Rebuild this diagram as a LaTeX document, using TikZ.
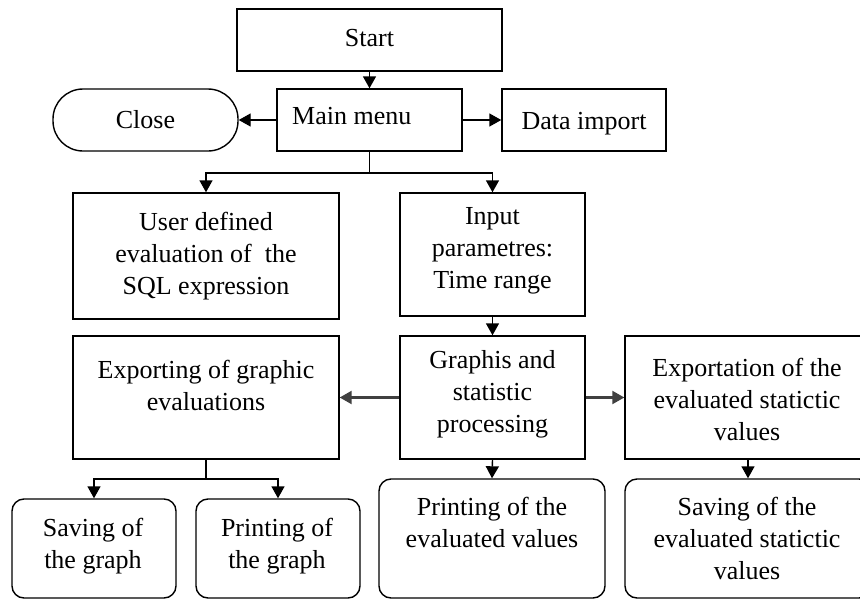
\documentclass[tikz,border=0pt]{standalone}
\usepackage{fontspec}
\setmainfont{Liberation Serif}
\usetikzlibrary{arrows.meta}
\tikzset{
  box/.style={draw=black, line width=1.4pt, fill=white, rectangle, inner sep=0pt},
  rbox/.style={box, rounded corners=12pt},
  stadium/.style={box, rounded corners=30pt},
  txt/.style={font=\fontsize{26}{32}\selectfont, align=center, inner sep=0pt},
  arr/.style={draw=black, line width=1.4pt, -{Triangle[length=12pt,width=13pt]}},
  garr/.style={draw=black!75, line width=2.2pt, -{Triangle[length=12pt,width=13pt]}},
  ln/.style={draw=black, line width=1.4pt}
}
\begin{document}
\begin{tikzpicture}[x=1pt,y=-1pt]
\useasboundingbox (0,0) rectangle (860,600);
\fill[white] (0,0) rectangle (860,600);
\clip (0,0) rectangle (860,600);

% boxes
\node[box, minimum width=265pt, minimum height=62pt] (start) at (369.5,40) {};
\node[txt, anchor=base] (start-t) at (369.5,46) {Start};
\node[box, minimum width=185pt, minimum height=62pt] (main) at (369.5,120) {};
\node[txt, anchor=base west] (main-t) at (292,124) {Main menu};
\node[stadium, minimum width=185pt, minimum height=62pt] (close) at (145.5,120) {};
\node[txt, anchor=base] (close-t) at (145.5,128) {Close};
\node[box, minimum width=164pt, minimum height=62pt] (import) at (584,120) {};
\node[txt, anchor=base] (import-t) at (584,129) {Data import};

\node[box, minimum width=266pt, minimum height=126pt] (user) at (206,256) {};
\node[txt] (user-t) at (206,256) {User defined\\evaluation of \ the\\SQL expression};
\node[box, minimum width=185pt, minimum height=123pt] (input) at (492.5,254.5) {};
\node[txt] (input-t) at (492.5,251) {Input\\parametres:\\Time range};

\node[box, minimum width=266pt, minimum height=123pt] (expg) at (206,397.5) {};
\node[txt, anchor=north] (expg-t) at (206,360) {Exporting of graphic\\evaluations};
\node[box, minimum width=185pt, minimum height=123pt] (proc) at (492.5,397.5) {};
\node[txt] (proc-t) at (492.5,394) {Graphis and\\statistic\\processing};
\node[box, minimum width=246pt, minimum height=123pt] (expv) at (748,397.5) {};
\node[txt] (expv-t) at (747,399) {Exportation of the\\evaluated statictic\\values};

\node[rbox, minimum width=164pt, minimum height=99pt] (saveg) at (94,548.5) {};
\node[txt] (saveg-t) at (93,546) {Saving of\\the graph};
\node[rbox, minimum width=164pt, minimum height=99pt] (printg) at (278,548.5) {};
\node[txt] (printg-t) at (277,546) {Printing of\\the graph};
\node[rbox, minimum width=226pt, minimum height=119pt] (printv) at (492,538.5) {};
\node[txt, anchor=north] (printv-t) at (492,497) {Printing of the\\evaluated values};
\node[rbox, minimum width=246pt, minimum height=119pt] (savev) at (748,538.5) {};
\node[txt, anchor=north] (savev-t) at (747,497) {Saving of the\\evaluated statictic\\values};

% connectors
\draw[arr] (start.south) -- (main.north);
\draw[arr] (main.west) -- (close.east);
\draw[arr] (main.east) -- (import.west);
\coordinate (b1) at (369.5,173);
\draw[ln] (main.south) -- (b1);
\draw[arr] (b1) -| (user.north);
\draw[arr] (b1) -| (input.north);
\draw[arr] (input.south) -- (proc.north);
\draw[garr] (proc.west) -- (expg.east);
\draw[garr] (proc.east) -- (expv.west);
\coordinate (b2) at (206,479);
\draw[ln] (expg.south) -- (b2);
\draw[arr] (b2) -| (saveg.north);
\draw[arr] (b2) -| (printg.north);
\draw[arr] (proc.south) -- (printv.north);
\draw[arr] (expv.south) -- (savev.north);
\end{tikzpicture}
\end{document}
